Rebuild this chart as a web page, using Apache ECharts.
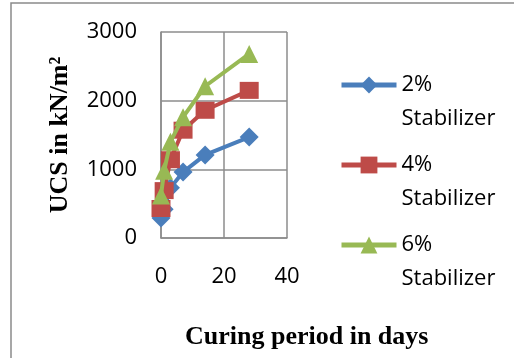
<!DOCTYPE html>
<html>
<head>
<meta charset="utf-8">
<script src="https://cdn.jsdelivr.net/npm/echarts@6/dist/echarts.min.js"></script>
<style>
  html, body { margin: 0; padding: 0; background: #fff; }
  #chart { width: 514px; height: 358px; }
</style>
</head>
<body>
<div id="chart"></div>
<script>
// Curing period (days) and unconfined compressive strength (kN/m²)
const days = [0, 1, 3, 7, 14, 28];
const seriesNames = ['2% Stabilizer', '4% Stabilizer', '6% Stabilizer'];
const ucs2 = [290, 420, 730, 960, 1210, 1470];
const ucs4 = [430, 690, 1140, 1570, 1860, 2150];
const ucs6 = [620, 980, 1400, 1760, 2210, 2680];
const yTicks = [0, 1000, 2000, 3000];
const xTicks = [0, 20, 40];

const colors = ['#4A7EBB', '#BE4B48', '#98B954'];
const symbols = ['diamond', 'rect', 'triangle'];
const symbolSizes = [[19, 19], [19, 17], [18, 18]];
const gridColor = '#8C8C8C';
const labelFont = 'Open Sans';

const chart = echarts.init(document.getElementById('chart'));

const series = [ucs2, ucs4, ucs6].map((vals, i) => ({
  name: seriesNames[i],
  type: 'line',
  data: days.map((d, j) => [d, vals[j]]),
  symbol: symbols[i],
  symbolSize: symbolSizes[i],
  showSymbol: true,
  lineStyle: { color: colors[i], width: 4 },
  itemStyle: { color: colors[i] },
  z: 2 + i
}));

// Legend entries: percentage on the icon's line, "Stabilizer" on the line below
const legendLabel = name => {
  const [pct, word] = name.split(' ');
  return '{a|' + pct + '}\n{b|' + word + '}';
};

chart.setOption({
  animation: false,
  backgroundColor: '#fff',
  grid: { left: 161, right: 227, top: 32, bottom: 120, containLabel: false },
  graphic: [{
    type: 'rect',
    shape: { x: 11, y: 3, width: 600, height: 400 },
    style: { fill: 'none', stroke: '#8A8A8A', lineWidth: 1.5 },
    silent: true
  }],
  title: {
    text: 'Curing period in days',
    left: 185,
    top: 323,
    padding: 0,
    textStyle: {
      fontFamily: 'Liberation Serif',
      fontWeight: 'bold',
      fontSize: 26,
      lineHeight: 28,
      color: '#000'
    }
  },
  legend: {
    orient: 'vertical',
    left: 339,
    top: 74,
    padding: 0,
    itemWidth: 55,
    itemHeight: 21,
    itemGap: 24,
    data: seriesNames,
    lineStyle: { width: 5 },
    formatter: legendLabel,
    textStyle: {
      fontFamily: labelFont,
      fontSize: 22,
      color: '#000',
      rich: {
        a: { fontFamily: labelFont, fontSize: 22, color: '#000', lineHeight: 34 },
        b: { fontFamily: labelFont, fontSize: 22, color: '#000', lineHeight: 0,
             height: 0, padding: [17, 0, 0, 0], verticalAlign: 'top' }
      }
    }
  },
  xAxis: {
    type: 'value',
    min: xTicks[0],
    max: xTicks[xTicks.length - 1],
    interval: 20,
    axisLine: { show: true, lineStyle: { color: gridColor, width: 1.5 } },
    axisTick: { show: false },
    splitLine: { show: true, lineStyle: { color: gridColor, width: 1.5 } },
    axisLabel: {
      margin: 28,
      fontFamily: labelFont,
      fontSize: 22,
      color: '#000',
      formatter: v => String(v)
    }
  },
  yAxis: {
    type: 'value',
    min: yTicks[0],
    max: yTicks[yTicks.length - 1],
    interval: 1000,
    name: 'UCS in kN/m²',
    nameLocation: 'middle',
    nameGap: 88,
    nameTextStyle: {
      fontFamily: 'Liberation Serif',
      fontWeight: 'bold',
      fontSize: 26,
      color: '#000'
    },
    axisLine: { show: true, lineStyle: { color: gridColor, width: 1.5 } },
    axisTick: { show: false },
    splitLine: { show: true, lineStyle: { color: gridColor, width: 1.5 } },
    axisLabel: {
      margin: 24,
      fontFamily: labelFont,
      fontSize: 22,
      color: '#000',
      formatter: v => String(v)
    }
  },
  series: series
});
</script>
</body>
</html>
